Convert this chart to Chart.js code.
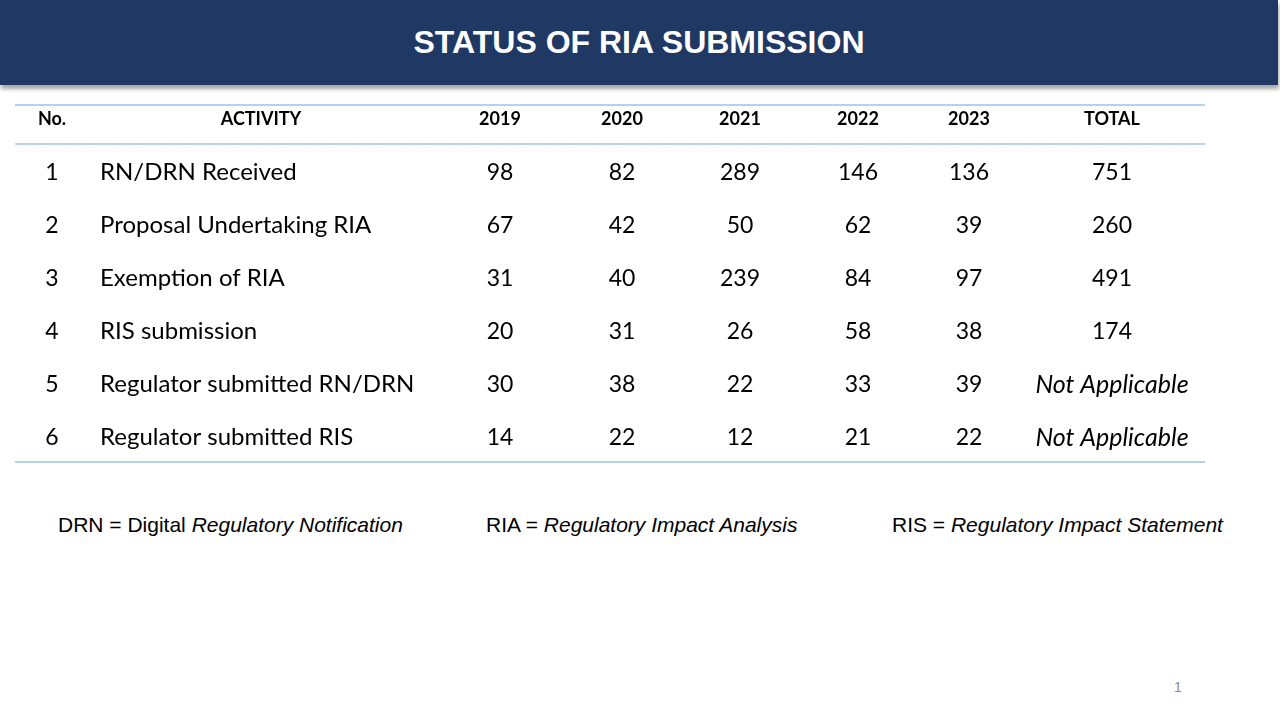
<!DOCTYPE html>
<html>
<head>
<meta charset="utf-8">
<script src="https://cdn.jsdelivr.net/npm/chart.js@4.4.1/dist/chart.umd.min.js"></script>
<style>
    html, body { margin: 0; padding: 0; background: #fff; }
    body { width: 1280px; height: 720px; position: relative; overflow: hidden; font-family: "Liberation Sans", Arial, sans-serif; }
    #title-bar {
        position: absolute; left: 0; top: 0; width: 1278px; height: 85px;
        background: #203864; box-shadow: 1px 4px 4px rgba(0, 0, 0, 0.35);
        color: #fff; font-weight: bold; font-size: 32px;
        display: flex; align-items: center; justify-content: center;
    }
    #table-wrap { position: absolute; left: 15px; top: 104px; width: 1190px; height: 360px; }
    .note { position: absolute; top: 513px; font-size: 21px; color: #000; white-space: nowrap; }
    .note i { font-style: italic; }
    #page-num { position: absolute; left: 1174px; top: 679px; font-size: 14px; color: #8c8c8c; }
</style>
</head>
<body>
<div id="title-bar">STATUS OF RIA SUBMISSION</div>
<div id="table-wrap"><canvas id="ria-table"></canvas></div>
<div class="note" style="left:58px">DRN = Digital <i>Regulatory Notification</i></div>
<div class="note" style="left:486px">RIA = <i>Regulatory Impact Analysis</i></div>
<div class="note" style="left:892px">RIS = <i>Regulatory Impact Statement</i></div>
<div id="page-num">1</div>

<script>
// table data
const headers = ['No.', 'ACTIVITY', '2019', '2020', '2021', '2022', '2023', 'TOTAL'];
const rowNumbers = ['1', '2', '3', '4', '5', '6'];
const activities = [
    'RN/DRN Received',
    'Proposal Undertaking RIA',
    'Exemption of RIA',
    'RIS submission',
    'Regulator submitted RN/DRN',
    'Regulator submitted RIS'
];
const values2019 = [98, 67, 31, 20, 30, 14];
const values2020 = [82, 42, 40, 31, 38, 22];
const values2021 = [289, 50, 239, 26, 22, 12];
const values2022 = [146, 62, 84, 58, 33, 21];
const values2023 = [136, 39, 97, 38, 39, 22];
const totals = [751, 260, 491, 174, null, null];

// layout: column widths of the table (same units as the x scale)
const colWidths = [74, 344, 134, 110, 126, 110, 112, 174];
const colStarts = colWidths.map((w, i) => colWidths.slice(0, i).reduce((a, b) => a + b, 0));
const colCenters = colWidths.map((w, i) => colStarts[i] + w / 2);
const tableWidth = colWidths.reduce((a, b) => a + b, 0);

const LINE_COLOR = '#9dc3e6';
const CELL_FONT = '23px Lato, "Noto Sans", sans-serif';
const LABEL_FONT = '24px Lato, "Noto Sans", sans-serif';
const CELL_FONT_ITALIC = 'italic 25px Lato, "Noto Sans", sans-serif';

function column(colIndex, texts, align) {
    const x = align === 'left' ? colStarts[colIndex] + 11 : colCenters[colIndex];
    return {
        label: headers[colIndex],
        data: texts.map((t, i) => ({ x: x, y: rowNumbers[i], text: t })),
        align: align || 'center',
        pointRadius: 0,
        pointHoverRadius: 0
    };
}

const datasets = [
    column(0, rowNumbers),
    column(1, activities, 'left'),
    column(2, values2019.map(String)),
    column(3, values2020.map(String)),
    column(4, values2021.map(String)),
    column(5, values2022.map(String)),
    column(6, values2023.map(String)),
    column(7, totals.map(v => v === null ? 'Not Applicable' : String(v)))
];

// draws cell texts at the point positions, plus the table rules
const tableCells = {
    id: 'tableCells',
    afterDatasetsDraw(chart) {
        const ctx = chart.ctx;
        const area = chart.chartArea;
        const xScale = chart.scales.x;
        const right = chart.width;
        ctx.save();
        // rules
        ctx.strokeStyle = LINE_COLOR;
        ctx.lineWidth = 1.5;
        ctx.beginPath();
        ctx.moveTo(area.left, xScale.top + 1);
        ctx.lineTo(right, xScale.top + 1);
        ctx.moveTo(area.left, area.bottom);
        ctx.lineTo(right, area.bottom);
        ctx.stroke();
        ctx.lineWidth = 2;
        ctx.strokeStyle = '#b3cfea';
        ctx.beginPath();
        ctx.moveTo(area.left, area.top);
        ctx.lineTo(right, area.top);
        ctx.stroke();
        ctx.setLineDash([1, 2]);
        ctx.lineWidth = 1;
        ctx.strokeStyle = '#dce9f6';
        ctx.beginPath();
        ctx.moveTo(area.left, area.top);
        ctx.lineTo(right, area.top);
        ctx.stroke();
        ctx.setLineDash([]);
        // cells
        ctx.fillStyle = '#000';
        ctx.textBaseline = 'middle';
        chart.data.datasets.forEach((ds, di) => {
            const meta = chart.getDatasetMeta(di);
            meta.data.forEach((pt, i) => {
                const text = ds.data[i].text;
                if (text === 'Not Applicable') ctx.font = CELL_FONT_ITALIC;
                else ctx.font = ds.align === 'left' ? LABEL_FONT : CELL_FONT;
                ctx.textAlign = ds.align;
                ctx.fillText(text, pt.x, pt.y + 2);
            });
        });
        ctx.restore();
    }
};

new Chart(document.getElementById('ria-table'), {
    type: 'scatter',
    data: { datasets: datasets },
    options: {
        responsive: true,
        maintainAspectRatio: false,
        animation: false,
        events: [],
        layout: { padding: { top: 0, bottom: 2, left: 0, right: 1190 - tableWidth } },
        plugins: {
            legend: { display: false },
            tooltip: { enabled: false }
        },
        scales: {
            x: {
                type: 'linear',
                position: 'top',
                min: 0,
                max: tableWidth,
                grid: { display: false },
                border: { display: false },
                afterBuildTicks: (scale) => {
                    scale.ticks = colCenters.map(v => ({ value: v }));
                },
                afterFit: (scale) => { scale.height = 40; },
                ticks: {
                    autoSkip: false,
                    maxRotation: 0,
                    padding: 6,
                    color: '#000',
                    font: { family: 'Lato, "Noto Sans", sans-serif', size: 18, weight: 'bold' },
                    callback: (value, index) => headers[index]
                }
            },
            y: {
                type: 'category',
                labels: rowNumbers,
                offset: true,
                display: false
            }
        }
    },
    plugins: [tableCells]
});
</script>
</body>
</html>
